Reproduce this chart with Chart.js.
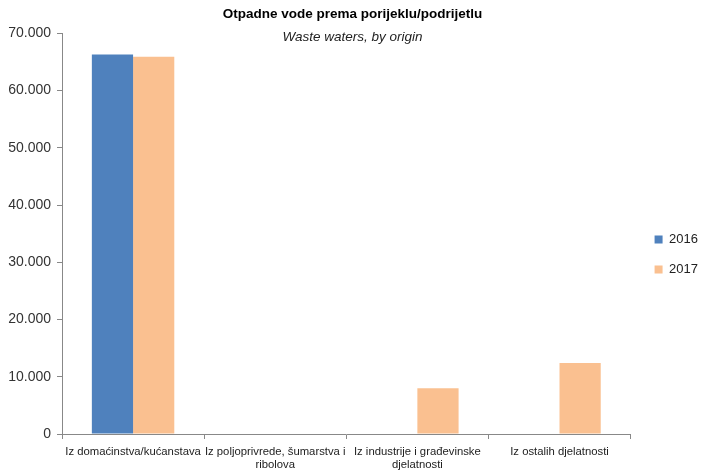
<!DOCTYPE html>
<html>
<head>
<meta charset="utf-8">
<script src="https://cdn.jsdelivr.net/npm/chart.js@4/dist/chart.umd.min.js"></script>
<style>
  html, body { margin: 0; padding: 0; background: #fff; }
  #wrap { width: 702px; height: 473px; }
</style>
</head>
<body>
<div id="wrap"><canvas id="myChart" width="702" height="473"></canvas></div>
<script>
const categories = [
  'Iz domaćinstva/kućanstava',
  ['Iz poljoprivrede, šumarstva i', 'ribolova'],
  ['Iz industrije i građevinske', 'djelatnosti'],
  'Iz ostalih djelatnosti'
];
const years = ['2016', '2017'];
const values2016 = [66300, 0, 0, 0];
const values2017 = [65900, 0, 8000, 12400];
const yTicks = [0, 10000, 20000, 30000, 40000, 50000, 60000, 70000];

const fmt = (v) => v === 0 ? '0' : String(v).replace(/\B(?=(\d{3})+(?!\d))/g, '.');

Chart.defaults.font.family = '"Liberation Sans", Arial, sans-serif';
Chart.defaults.color = '#333';

// nudge the legend to where the original sits
const legendShift = {
  id: 'legendShift',
  afterLayout(chart) {
    const lg = chart.legend;
    lg.left += 7; lg.right += 7;
    lg.top += 18; lg.bottom += 18;
  }
};

const canvas = document.getElementById('myChart');
new Chart(canvas, {
  type: 'bar',
  data: {
    labels: categories,
    datasets: [
      { label: years[0], data: values2016, backgroundColor: '#4F81BD' },
      { label: years[1], data: values2017, backgroundColor: '#FAC090' }
    ]
  },
  options: {
    responsive: false,
    animation: false,
    layout: { padding: { left: 4, right: 1, bottom: 0 } },
    datasets: {
      bar: { categoryPercentage: 0.58, barPercentage: 1.0 }
    },
    plugins: {
      title: {
        display: true,
        text: 'Otpadne vode prema porijeklu/podrijetlu',
        font: { size: 13.5, weight: 'bold' },
        color: '#000',
        padding: { top: 6, bottom: 2 }
      },
      subtitle: {
        display: true,
        text: 'Waste waters, by origin',
        font: { size: 13.5, style: 'italic' },
        color: '#222',
        padding: { top: 5, bottom: -12 }
      },
      legend: {
        position: 'right',
        labels: {
          boxWidth: 8,
          boxHeight: 8,
          padding: 17,
          font: { size: 13 },
          color: '#222'
        }
      },
      tooltip: { enabled: false }
    },
    scales: {
      x: {
        afterFit: (scale) => { scale.height = 39; },
        grid: { drawOnChartArea: false, offset: true, tickLength: 5, color: '#888' },
        border: { color: '#888' },
        ticks: { font: { size: 11.3 }, maxRotation: 0, autoSkip: false, padding: 6, color: '#222' }
      },
      y: {
        min: 0,
        max: 70000,
        afterBuildTicks: (scale) => { scale.ticks = yTicks.map((v) => ({ value: v })); },
        afterFit: (scale) => { scale.width = 58; },
        grid: { drawOnChartArea: false, tickLength: 5, color: '#888' },
        border: { color: '#888' },
        ticks: { font: { size: 14 }, padding: 6, color: '#333', callback: (v) => fmt(v) }
      }
    }
  },
  plugins: [legendShift]
});
</script>
</body>
</html>
